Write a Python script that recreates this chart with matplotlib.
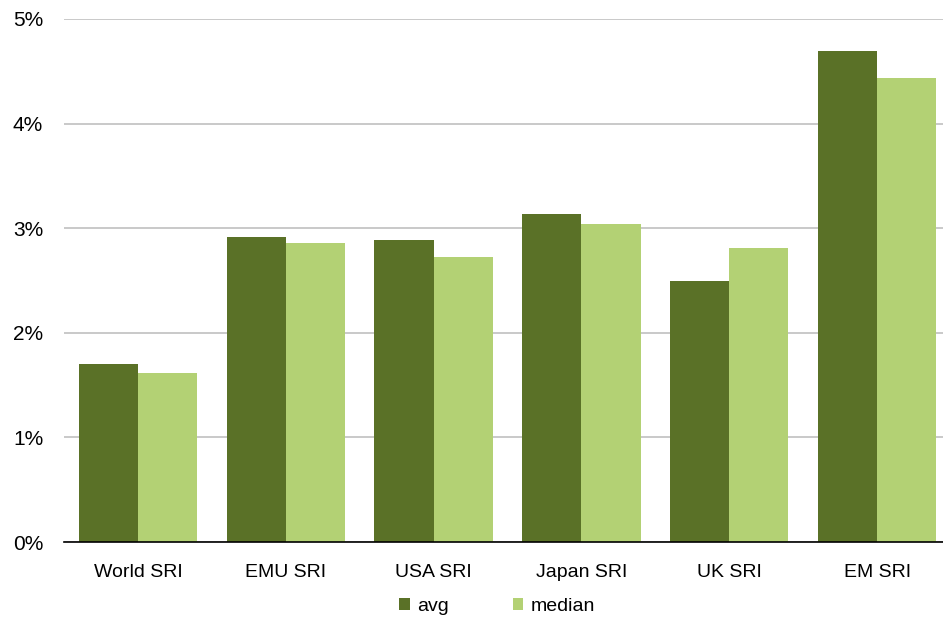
import numpy as np
import matplotlib
matplotlib.use('Agg')
import matplotlib.pyplot as plt
from matplotlib.ticker import FuncFormatter

categories = ['World SRI', 'EMU SRI', 'USA SRI', 'Japan SRI', 'UK SRI', 'EM SRI']
avg = [1.70, 2.92, 2.89, 3.14, 2.50, 4.69]
median = [1.62, 2.86, 2.72, 3.04, 2.81, 4.44]

dark = '#5a7127'
light = '#b3d174'

plt.rcParams['font.family'] = ['Liberation Sans', 'DejaVu Sans']

fig = plt.figure(figsize=(9.43, 6.19), dpi=100)
# axes run a little past the right edge of the figure, as in the original
ax = fig.add_axes([64/943, 1-542/619, 887/943, (542-19)/619])

x = np.arange(len(categories))
w = 0.4
ax.bar(x - w/2, avg, w, color=dark, label='avg', zorder=2)
ax.bar(x + w/2, median, w, color=light, label='median', zorder=2)

ax.set_xlim(-0.5, len(categories) - 0.5)
ax.set_ylim(0, 5)
ax.set_yticks(np.arange(0, 6, 1))
ax.yaxis.set_major_formatter(FuncFormatter(lambda v, p: f'{v:.0f}%'))
ax.set_xticks(x)
ax.set_xticklabels(categories)
ax.grid(axis='y', color='#c0c0c0', lw=1.2, zorder=0)
for s in ['top', 'right', 'left']:
    ax.spines[s].set_visible(False)
ax.spines['bottom'].set_color('black')
ax.spines['bottom'].set_linewidth(1.2)
ax.tick_params(axis='both', length=0, colors='black')
ax.tick_params(axis='y', pad=15, labelsize=15)
ax.tick_params(axis='x', pad=16, labelsize=14)

leg = fig.legend(loc='lower center', bbox_to_anchor=(0.527, -0.022), ncol=2, frameon=False,
                 fontsize=14, handlelength=0.55, handleheight=0.55, handletextpad=0.35,
                 columnspacing=3.3)

fig.savefig('out.png', dpi=100)
